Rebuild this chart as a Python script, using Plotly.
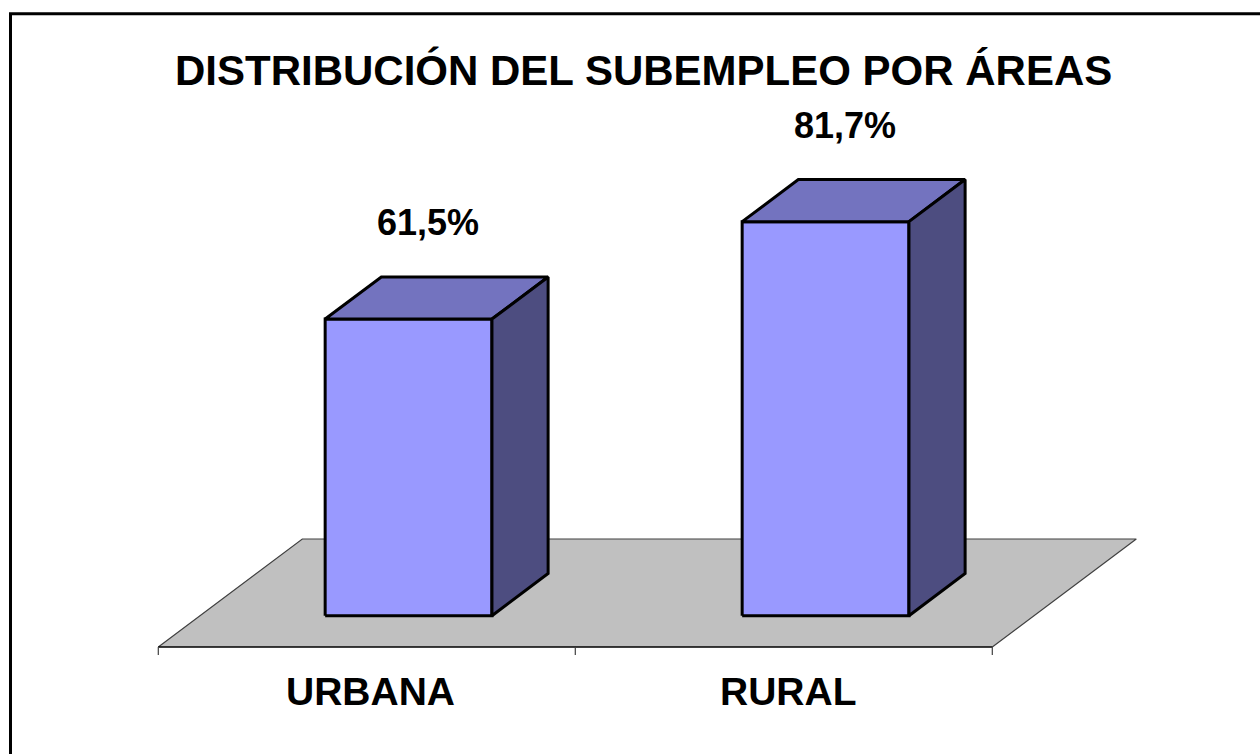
import plotly.graph_objects as go

# ---- data ----
categories = ["URBANA", "RURAL"]
values = [61.5, 81.7]
value_labels = ["61,5%", "81,7%"]
title_text = "DISTRIBUCIÓN DEL SUBEMPLEO POR ÁREAS"

# ---- 3D projection settings (in axis units) ----
W, H = 1260, 754
PX_PER_CAT = 417.0
PX_PER_UNIT = 4.823
FLOOR_LEFT_PX = 158.3
FLOOR_FRONT_PX = 647.0
DX = 144.0 / PX_PER_CAT      # full depth, x shift
DY = 108.0 / PX_PER_UNIT     # full depth, y shift
Z0, Z1 = 0.29, 0.68          # bar depth extent
BAR_W = 0.4

FONT = "Liberation Sans, Arial, sans-serif"
FRONT = "#9999FF"
TOP = "#7373BF"
SIDE = "#4D4D80"
FLOOR = "#C0C0C0"

n = len(categories)
fig = go.Figure()

# floor
fx = [-0.5, n - 0.5, n - 0.5 + DX, -0.5 + DX, -0.5]
fy = [0, 0, DY, DY, 0]
fig.add_trace(go.Scatter(x=fx, y=fy, fill="toself", fillcolor=FLOOR, mode="none",
                         hoverinfo="skip", showlegend=False))
# floor edges
fig.add_trace(go.Scatter(x=[-0.5, -0.5 + DX, n - 0.5 + DX, n - 0.5], y=[0, DY, DY, 0],
                         mode="lines", line=dict(color="#404040", width=1.2),
                         hoverinfo="skip", showlegend=False))
# front axis line
fig.add_trace(go.Scatter(x=[-0.5, n - 0.5], y=[0, 0], mode="lines",
                         line=dict(color="black", width=1.5), hoverinfo="skip", showlegend=False))
# ticks
tick_len = 8.0 / PX_PER_UNIT
for k in range(n + 1):
    fig.add_trace(go.Scatter(x=[k - 0.5, k - 0.5], y=[0, -tick_len], mode="lines",
                             line=dict(color="#404040", width=1.2), hoverinfo="skip", showlegend=False))

bdx = (Z1 - Z0) * DX
bdy = (Z1 - Z0) * DY
base = Z0 * DY
line = dict(color="black", width=3)
for i, v in enumerate(values):
    xc = i + Z0 * DX
    xl, xr = xc - BAR_W / 2, xc + BAR_W / 2
    top = base + v
    # front face
    fig.add_trace(go.Scatter(x=[xl, xr, xr, xl, xl], y=[base, base, top, top, base],
                             fill="toself", fillcolor=FRONT, mode="lines", line=line,
                             hoverinfo="skip", showlegend=False))
    # top face
    fig.add_trace(go.Scatter(x=[xl, xr, xr + bdx, xl + bdx, xl], y=[top, top, top + bdy, top + bdy, top],
                             fill="toself", fillcolor=TOP, mode="lines", line=line,
                             hoverinfo="skip", showlegend=False))
    # side face
    fig.add_trace(go.Scatter(x=[xr, xr + bdx, xr + bdx, xr, xr], y=[base, base + bdy, top + bdy, top, base],
                             fill="toself", fillcolor=SIDE, mode="lines", line=line,
                             hoverinfo="skip", showlegend=False))
    # value label
    fig.add_annotation(x=xc + 0.047, y=top + 20, text=value_labels[i], showarrow=False,
                       xanchor="center", yanchor="middle",
                       font=dict(family=FONT, size=36, color="black", weight="bold"))
    # category label
    fig.add_annotation(x=i + 0.01, y=-(691 - FLOOR_FRONT_PX) / PX_PER_UNIT, text=categories[i], showarrow=False,
                       xanchor="center", yanchor="middle",
                       font=dict(family=FONT, size=39, color="black", weight="bold"))

# title
fig.add_annotation(x=643 / W, y=1 - 70 / H, xref="paper", yref="paper", text=title_text,
                   showarrow=False, xanchor="center", yanchor="middle",
                   font=dict(family=FONT, size=42, color="black", weight="bold"))

# outer border
fig.add_shape(type="rect", xref="paper", yref="paper", x0=10.5 / W, x1=1.01, y0=-0.01, y1=1 - 13.8 / H,
              line=dict(color="black", width=3), fillcolor="rgba(0,0,0,0)")

x_min = -0.5 - FLOOR_LEFT_PX / PX_PER_CAT
x_max = -0.5 + (W - FLOOR_LEFT_PX) / PX_PER_CAT
y_min = -(H - FLOOR_FRONT_PX) / PX_PER_UNIT
y_max = FLOOR_FRONT_PX / PX_PER_UNIT

fig.update_layout(
    width=W, height=H,
    margin=dict(l=0, r=0, t=0, b=0),
    paper_bgcolor="white", plot_bgcolor="white",
    xaxis=dict(range=[x_min, x_max], visible=False, fixedrange=True),
    yaxis=dict(range=[y_min, y_max], visible=False, fixedrange=True),
    showlegend=False,
)

fig.write_html("out.html", config={"displayModeBar": False},
               post_script="document.body.style.margin='0';document.body.style.overflow='hidden';")
